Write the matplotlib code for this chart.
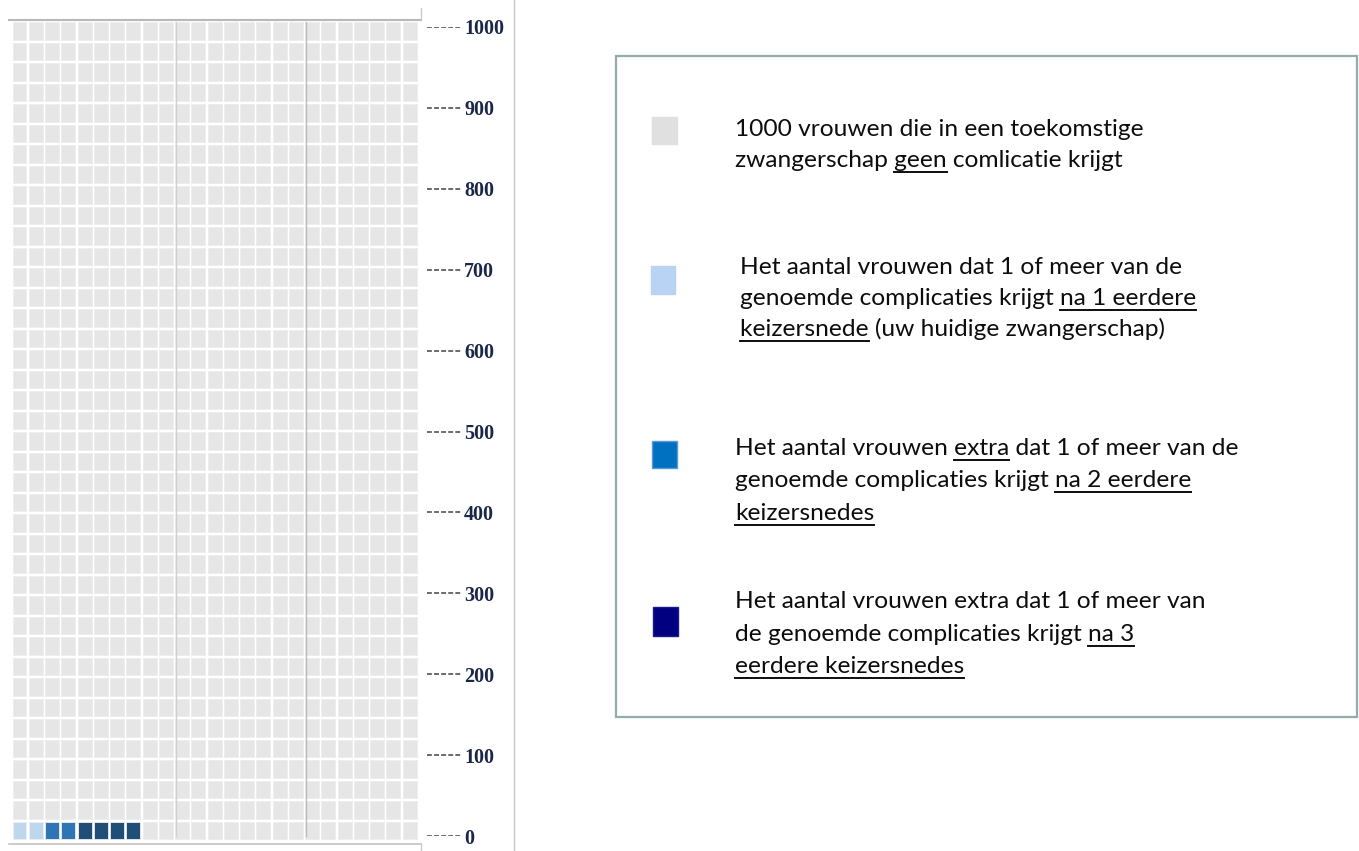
import matplotlib
matplotlib.use("Agg")
import matplotlib.pyplot as plt
from matplotlib.patches import Rectangle
from matplotlib.lines import Line2D

# ---------------- data ----------------
categories = ["geen complicatie", "na 1 eerdere keizersnede",
              "na 2 eerdere keizersnedes", "na 3 eerdere keizersnedes"]
counts = [992, 2, 2, 4]                      # total = 1000 women
fill_order = [1, 2, 3, 0]                    # order in which squares are filled (bottom-left first)
waffle_colors = ["#e6e6e6", "#bdd7ee", "#2e75b6", "#1f4e79"]
legend_colors = ["#e0e0e0", "#b8d3f3", "#0070c0", "#000080"]
n_cols, n_rows = 25, 40
tick_values = [0, 100, 200, 300, 400, 500, 600, 700, 800, 900, 1000]
separator_columns = [10, 18]

legend_lines = [
    ["1000 vrouwen die in een toekomstige",
     "zwangerschap _geen_ comlicatie krijgt"],
    ["Het aantal vrouwen dat 1 of meer van de",
     "genoemde complicaties krijgt _na 1 eerdere_",
     "_keizersnede_ (uw huidige zwangerschap)"],
    ["Het aantal vrouwen _extra_ dat 1 of meer van de",
     "genoemde complicaties krijgt _na 2 eerdere_",
     "_keizersnedes_"],
    ["Het aantal vrouwen extra dat 1 of meer van",
     "de genoemde complicaties krijgt _na 3_",
     "_eerdere keizersnedes_"],
]

# ---------------- layout helpers ----------------
W, H = 1359, 851
fig = plt.figure(figsize=(W / 100, H / 100), dpi=100)
fig.patch.set_facecolor("white")
plt.rcParams["lines.scale_dashes"] = False


def fx(px):
    return px / W


def fy(py):
    return 1 - py / H


# ---------------- waffle ----------------
GL, GT, PX, PY = 12.5, 22.0, 16.26, 20.5
off = 0.07
ax = fig.add_axes([fx(GL - off * PX), fy(GT - off * PY + n_rows * PY),
                   n_cols * PX / W, n_rows * PY / H])
ax.set_xlim(0, n_cols)
ax.set_ylim(0, n_rows)
ax.axis("off")

cell_cat = []
for ci in fill_order:
    cell_cat += [ci] * counts[ci]
for k, ci in enumerate(cell_cat):
    r, c = divmod(k, n_cols)
    ax.add_patch(Rectangle((c + off, r + off), 1 - 2 * off, 1 - 2 * off,
                           facecolor=waffle_colors[ci], edgecolor="#ededed",
                           linewidth=0.6))
sep_colors = ["#d0d0d0", "#bbbbbb"]
for sc, scol in zip(separator_columns, sep_colors):
    ax.axvline(sc + 0.1, color=scol, lw=1.0, ymin=0.005, ymax=0.998)

# frame lines
fig.add_artist(Line2D([fx(9), fx(421)], [fy(19.5)] * 2, color="#b8b8b8", lw=1.5))
fig.add_artist(Line2D([fx(421)] * 2, [fy(8), fy(19.5)], color="#cccccc", lw=1.0))
fig.add_artist(Line2D([fx(9), fx(421)], [fy(843.5)] * 2, color="#c4c4c4", lw=1.2))
fig.add_artist(Line2D([fx(421)] * 2, [fy(843.5), fy(851)], color="#cccccc", lw=1.0))
fig.add_artist(Line2D([fx(514)] * 2, [0, 1], color="#c8c8c8", lw=1.0))

# ---------------- scale (0 - 1000) ----------------
ax2 = fig.add_axes([fx(427), fy(836), (461 - 427) / W, (836 - 27) / H])
ax2.set_xlim(0, 1)
ax2.set_ylim(0, 1000)
for s in ax2.spines.values():
    s.set_visible(False)
ax2.set_xticks([])
ax2.patch.set_alpha(0)
ax2.hlines(tick_values, 0, 1, colors="#6a6a6a", linewidth=1.4,
           linestyles=[(0, (3.5, 1.6))])
ax2.yaxis.tick_right()
ax2.set_yticks(tick_values)
ax2.set_yticklabels([str(v) for v in tick_values])
ax2.tick_params(axis="y", length=0, pad=2.2, labelsize=14.5,
                labelcolor="#1b2748")
for lab in ax2.get_yticklabels():
    lab.set_fontfamily("Liberation Serif")
    lab.set_fontweight("bold")

# ---------------- legend box ----------------
fig.add_artist(Rectangle((fx(616), fy(717)), (1357 - 616) / W, (717 - 56) / H,
                         transform=fig.transFigure, fill=False,
                         edgecolor="#94acac", linewidth=1.6))

square_px = [(652, 117, 677, 144), (651, 266, 675, 294),
             (652, 441, 677, 468), (653, 607, 678, 636)]
square_edges = ["#e0e0e0", "#b8d3f3", "#5b9bd5", "#1a1a8c"]
for (x0, y0, x1, y1), col, ec in zip(square_px, legend_colors, square_edges):
    fig.add_artist(Rectangle((fx(x0), fy(y1)), (x1 - x0) / W, (y1 - y0) / H,
                             transform=fig.transFigure, facecolor=col,
                             edgecolor=ec, linewidth=1.0))

text_x = [735, 740, 735, 735]
baselines = [[136, 167], [274, 305, 336], [455, 487, 520], [608, 641, 673]]

FONT = "Lato"
renderer = fig.canvas.get_renderer()


def text_width(s, size):
    t = fig.text(0, 0, s, fontsize=size, family=FONT)
    w = t.get_window_extent(renderer).width
    t.remove()
    return w


# fit the font size to the reference width of the longest line
ref = "Het aantal vrouwen extra dat 1 of meer van de"
fsize = 16 * 505 / text_width(ref, 16)

for item, x0, bls in zip(legend_lines, text_x, baselines):
    for line, bl in zip(item, bls):
        parts = line.split("_")
        plain = "".join(parts)
        fig.text(fx(x0), fy(bl), plain, fontsize=fsize, family=FONT,
                 color="#0d0d0d", va="baseline", ha="left")
        acc = ""
        for i, p in enumerate(parts):
            acc += p
            if i % 2 == 1 and p:
                end = text_width(acc, fsize)
                w = text_width(p, fsize)
                start = end - w
                fig.add_artist(Line2D([fx(x0 + start), fx(x0 + end)],
                                      [fy(bl + 4.5)] * 2, color="#0d0d0d",
                                      lw=1.4))

fig.savefig("out.png", dpi=100, facecolor="white")
